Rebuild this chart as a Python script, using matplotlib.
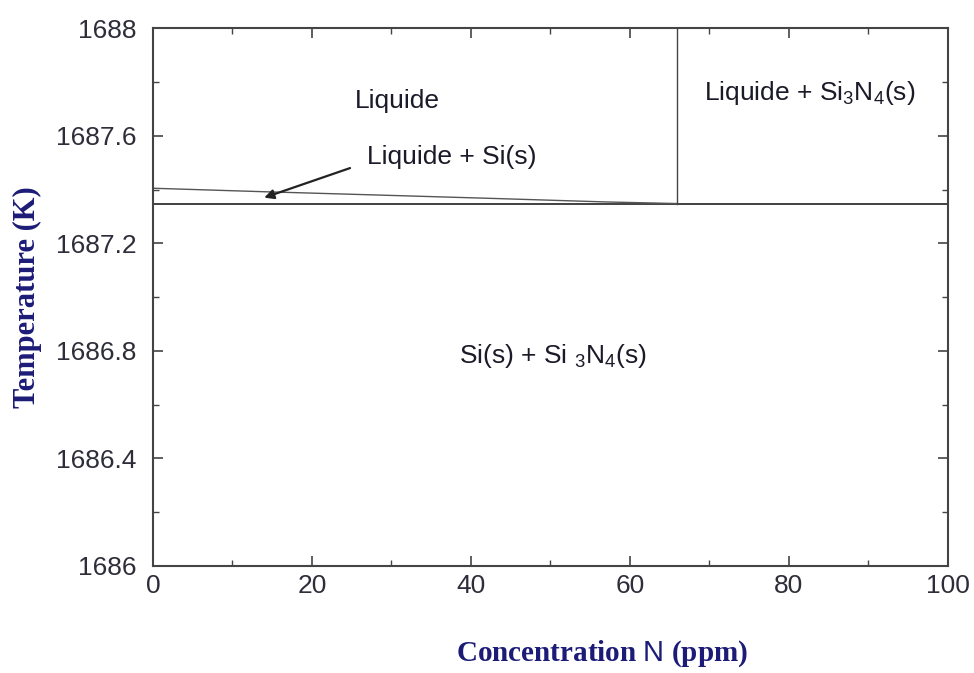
import matplotlib
matplotlib.use("Agg")
import matplotlib.pyplot as plt
from matplotlib.ticker import MultipleLocator

plt.rcParams['font.family'] = ['Liberation Sans', 'DejaVu Sans']
plt.rcParams['mathtext.fontset'] = 'custom'
plt.rcParams['mathtext.rm'] = 'Liberation Sans'
plt.rcParams['mathtext.sf'] = 'Liberation Sans'
plt.rcParams['mathtext.default'] = 'regular'

# phase boundaries
liquidus_x = [0, 14, 28, 44, 57, 66]
liquidus_t = [1687.405, 1687.392, 1687.380, 1687.366, 1687.354, 1687.348]
eutectic_x = [0, 100]
eutectic_t = [1687.348, 1687.348]
solubility_x = [66, 66]
solubility_t = [1687.348, 1688.0]

# region labels: text, x, T
regions = [
    ("Liquide", 30.8, 1687.73),
    ("Liquide + Si$_3$N$_4$(s)", 82.6, 1687.76),
    ("Si(s) + Si $_3$N$_4$(s)", 50.3, 1686.78),
]
arrow_label = ("Liquide + Si(s)", 37.6, 1687.52)
arrow_tail = (24.8, 1687.48)
arrow_head = (14.0, 1687.37)

label_color = '#1c1c78'
tick_color = '#2e2e3a'

fig = plt.figure(figsize=(9.74, 6.73), dpi=100)
ax = fig.add_axes([0.157, 0.159, 0.816, 0.799])

ax.plot(eutectic_x, eutectic_t, color='#333333', lw=1.3)
ax.plot(liquidus_x, liquidus_t, color='#555555', lw=1.0)
ax.plot(solubility_x, solubility_t, color='#444444', lw=1.0)

for txt, x, t in regions:
    ax.text(x, t, txt, ha='center', va='center', fontsize=19, color='#1a1a28')
ax.text(arrow_label[1], arrow_label[2], arrow_label[0], ha='center', va='center',
        fontsize=19, color='#1a1a28')
ax.annotate("", xy=arrow_head, xytext=arrow_tail,
            arrowprops=dict(arrowstyle='-|>', color='#222222', lw=1.6,
                            mutation_scale=14, shrinkA=0, shrinkB=0))

ax.set_xlim(0, 100)
ax.set_ylim(1686, 1688)
ax.xaxis.set_major_locator(MultipleLocator(20))
ax.xaxis.set_minor_locator(MultipleLocator(10))
ax.yaxis.set_minor_locator(MultipleLocator(0.2))
ax.set_yticks([1686, 1686.4, 1686.8, 1687.2, 1687.6, 1688])
ax.set_yticklabels(['1686', '1686.4', '1686.8', '1687.2', '1687.6', '1688'])

ax.tick_params(which='both', direction='in', top=True, right=True,
               colors='#444444', labelcolor=tick_color, labelsize=19)
ax.tick_params(which='major', length=7, width=1.2)
ax.tick_params(which='minor', length=4, width=1.0)
ax.tick_params(axis='x', pad=6)
ax.tick_params(axis='y', pad=12)
for s in ax.spines.values():
    s.set_color('#444444')
    s.set_linewidth(1.5)

ax.set_xlabel("Concentration $\\mathsf{N}$ (ppm)", family='Liberation Serif',
              fontweight='bold', fontsize=21, color=label_color)
ax.set_ylabel("Temperature (K)", family='Liberation Serif', fontweight='bold',
              fontsize=22, color=label_color)
ax.xaxis.set_label_coords(0.565, -0.135)
ax.yaxis.set_label_coords(-0.14, 0.5)

fig.savefig("out.png", dpi=100)
